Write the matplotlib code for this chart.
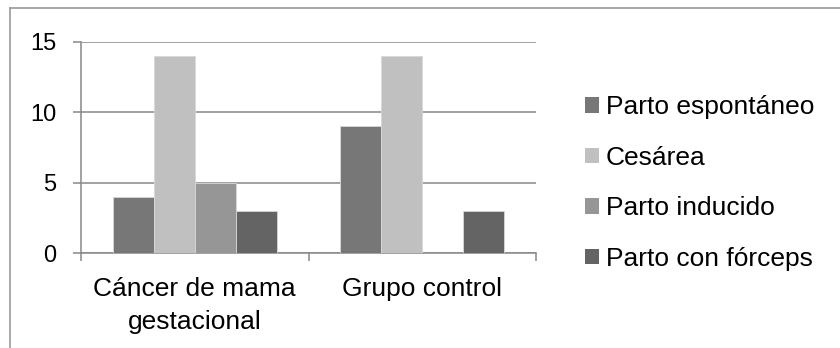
import matplotlib
matplotlib.use("Agg")
import matplotlib.pyplot as plt
import numpy as np
from matplotlib.lines import Line2D

plt.rcParams['font.family'] = ['Liberation Sans', 'DejaVu Sans']

categories = ["Cáncer de mama\ngestacional", "Grupo control"]
series_names = ["Parto espontáneo", "Cesárea", "Parto inducido", "Parto con fórceps"]
parto_espontaneo = [4, 9]
cesarea = [14, 14]
parto_inducido = [5, 0]
parto_forceps = [3, 3]
series_values = [parto_espontaneo, cesarea, parto_inducido, parto_forceps]
colors = ["#777777", "#C0C0C0", "#969696", "#646464"]
yticks = [0, 5, 10, 15]

W, H = 840, 348
fig = plt.figure(figsize=(W / 100, H / 100), dpi=100)
ax = fig.add_axes([81 / W, 1 - 253 / H, (536 - 81) / W, (253 - 42) / H])

x = np.arange(len(categories))
bw = 0.18
handles = []
for i, (name, vals, c) in enumerate(zip(series_names, series_values, colors)):
    b = ax.bar(x + (i - 1.5) * bw, vals, bw, color=c, edgecolor="#D8D8D8",
               linewidth=0.6, label=name, zorder=3)
    handles.append(b)

grid_c = "#888888"
ax.set_xlim(-0.5, 1.5)
ax.set_ylim(0, 15)
ax.set_yticks(yticks)
ax.set_yticklabels([str(v) for v in yticks], fontsize=17)
ax.yaxis.grid(True, color=grid_c, linewidth=1.1, zorder=0)
ax.set_axisbelow(True)

ax.set_xticks(x)
ax.set_xticklabels(categories, fontsize=19, linespacing=1.5)
ax.set_xticks([-0.5, 0.5, 1.5], minor=True)
ax.tick_params(axis='x', which='major', length=0, pad=17)
ax.tick_params(axis='x', which='minor', length=6, width=1.1, color=grid_c, direction='out')
ax.tick_params(axis='y', length=6, width=1.1, color=grid_c, direction='out', pad=12)

for s in ["top", "right"]:
    ax.spines[s].set_visible(False)
for s in ["left", "bottom"]:
    ax.spines[s].set_color(grid_c)
    ax.spines[s].set_linewidth(1.1)

leg = fig.legend(handles=handles, labels=series_names, loc="center left",
                 bbox_to_anchor=(585 / W, 1 - 183 / H), frameon=False,
                 fontsize=19, handlelength=0.52, handleheight=0.52,
                 handletextpad=0.27, labelspacing=1.0, borderpad=0,
                 borderaxespad=0)
for p in leg.get_patches():
    p.set_edgecolor("none")

# outer chart frame
frame_c = "#9A9A9A"
fig.add_artist(Line2D([10 / W, 1.0], [1 - 8 / H, 1 - 8 / H], color=frame_c,
                      linewidth=1.2, transform=fig.transFigure))
fig.add_artist(Line2D([10 / W, 10 / W], [0.0, 1 - 8 / H], color=frame_c,
                      linewidth=1.2, transform=fig.transFigure))

fig.savefig("out.png", dpi=100)
